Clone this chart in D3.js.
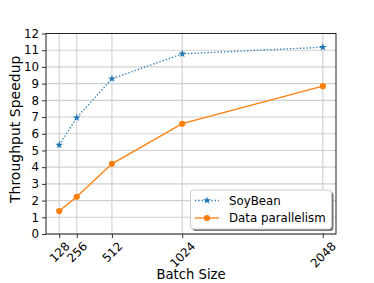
<!DOCTYPE html>
<html>
<head>
<meta charset="utf-8">
<script src="https://cdn.jsdelivr.net/npm/d3@7"></script>
<style>
  body { margin: 0; background: #fff; }
  text { font-family: "DejaVu Sans", sans-serif; fill: #000; }
</style>
</head>
<body>
<div id="chart"></div>
<script>
// data
var batchSizes = [128, 256, 512, 1024, 2048];
var soybean = [5.33, 6.96, 9.29, 10.78, 11.18];
var dataParallel = [1.37, 2.23, 4.2, 6.6, 8.85];
var yTicks = [0, 1, 2, 3, 4, 5, 6, 7, 8, 9, 10, 11, 12];
var seriesNames = ["SoyBean", "Data parallelism"];

var svgWidth = 374;
var svgHeight = 283;
var margin = { top: 33.5, right: 38, bottom: 49, left: 46 };
var width = svgWidth - margin.left - margin.right;
var height = svgHeight - margin.top - margin.bottom;

var blue = "#1f77b4";
var orange = "#ff7f0e";

var svg = d3.select("#chart")
  .append("svg")
  .attr("width", svgWidth)
  .attr("height", svgHeight);

var chartGroup = svg.append("g")
  .attr("transform", `translate(${margin.left}, ${margin.top})`);

// x range padded 5% like matplotlib
var span = batchSizes[batchSizes.length - 1] - batchSizes[0];
var xScale = d3.scaleLinear()
  .domain([batchSizes[0] - span * 0.05, batchSizes[batchSizes.length - 1] + span * 0.05])
  .range([0, width]);

var yScale = d3.scaleLinear()
  .domain([0, 12])
  .range([height, 0]);

// grid
chartGroup.append("g")
  .selectAll("line")
  .data(yTicks)
  .enter()
  .append("line")
  .attr("x1", 0)
  .attr("x2", width)
  .attr("y1", d => yScale(d))
  .attr("y2", d => yScale(d))
  .attr("stroke", "#d0d0d0")
  .attr("stroke-width", 1.1);

chartGroup.append("g")
  .selectAll("line")
  .data(batchSizes)
  .enter()
  .append("line")
  .attr("x1", d => xScale(d))
  .attr("x2", d => xScale(d))
  .attr("y1", 0)
  .attr("y2", height)
  .attr("stroke", "#d0d0d0")
  .attr("stroke-width", 1.1);

// axes
var bottomAxis = d3.axisBottom(xScale).tickValues(batchSizes).tickSize(4).tickPadding(3).tickFormat(d3.format("d"));
var leftAxis = d3.axisLeft(yScale).tickValues(yTicks).tickSize(4).tickPadding(3);

var xAxisG = chartGroup.append("g")
  .attr("transform", `translate(0, ${height})`)
  .call(bottomAxis);

var yAxisG = chartGroup.append("g")
  .call(leftAxis);

[xAxisG, yAxisG].forEach(function(g) {
  g.select(".domain").remove();
  g.selectAll("line").attr("stroke", "#333");
  g.selectAll("text").style("font-size", "11.8px").style("font-family", "DejaVu Sans");
});

// rotate x tick labels 45deg, centred on tick (bbox top under the axis)
xAxisG.selectAll(".tick text")
  .attr("y", null)
  .attr("dy", null)
  .attr("text-anchor", "middle")
  .attr("dominant-baseline", "central")
  .attr("transform", function() {
    var w = this.getComputedTextLength();
    var h = 9;
    var off = 7 + (w + h) / (2 * Math.SQRT2);
    return `translate(0, ${off}) rotate(-45)`;
  });

// frame
chartGroup.append("rect")
  .attr("width", width)
  .attr("height", height)
  .attr("fill", "none")
  .attr("stroke", "#222")
  .attr("stroke-width", 1);

// lines
var line = d3.line()
  .x(d => xScale(d[0]))
  .y(d => yScale(d[1]));

var soyPts = batchSizes.map((b, i) => [b, soybean[i]]);
var dpPts = batchSizes.map((b, i) => [b, dataParallel[i]]);

chartGroup.append("path")
  .datum(soyPts)
  .attr("d", line)
  .attr("fill", "none")
  .attr("stroke", blue)
  .attr("stroke-width", 1.3)
  .attr("stroke-dasharray", "1.3,2");

chartGroup.append("path")
  .datum(dpPts)
  .attr("d", line)
  .attr("fill", "none")
  .attr("stroke", orange)
  .attr("stroke-width", 1.3);

var star = d3.symbol().type(d3.symbolStar).size(19);

chartGroup.selectAll(".soy")
  .data(soyPts)
  .enter()
  .append("path")
  .attr("class", "soy")
  .attr("d", star)
  .attr("transform", d => `translate(${xScale(d[0])}, ${yScale(d[1])})`)
  .attr("fill", blue);

chartGroup.selectAll(".dp")
  .data(dpPts)
  .enter()
  .append("circle")
  .attr("class", "dp")
  .attr("cx", d => xScale(d[0]))
  .attr("cy", d => yScale(d[1]))
  .attr("r", 3.1)
  .attr("fill", orange);

// legend
var lx = 190.5, ly = 190, lw = 141, lh = 39;
svg.append("rect")
  .attr("x", lx + 2).attr("y", ly + 2)
  .attr("width", lw).attr("height", lh)
  .attr("rx", 3)
  .attr("fill", "#777");
svg.append("rect")
  .attr("x", lx).attr("y", ly)
  .attr("width", lw).attr("height", lh)
  .attr("rx", 3)
  .attr("fill", "#fff")
  .attr("stroke", "#ccc")
  .attr("stroke-width", 1);

seriesNames.forEach(function(name, i) {
  var yy = ly + 10.5 + i * 17.5;
  var col = i === 0 ? blue : orange;
  svg.append("line")
    .attr("x1", lx + 4.5).attr("x2", lx + 28.5)
    .attr("y1", yy).attr("y2", yy)
    .attr("stroke", col)
    .attr("stroke-width", 1.3)
    .attr("stroke-dasharray", i === 0 ? "1.3,2" : null);
  if (i === 0) {
    svg.append("path").attr("d", star)
      .attr("transform", `translate(${lx + 16.5}, ${yy})`)
      .attr("fill", col);
  } else {
    svg.append("circle").attr("cx", lx + 16.5).attr("cy", yy).attr("r", 3.1).attr("fill", col);
  }
  svg.append("text")
    .attr("x", lx + 38.5)
    .attr("y", yy + 4.3)
    .style("font-size", "11.8px")
    .text(name);
});

// axis labels
svg.append("text")
  .attr("transform", "translate(20, 203) rotate(-90)")
  .attr("text-anchor", "start")
  .style("font-size", "14px")
  .text("Throughput Speedup");

svg.append("text")
  .attr("x", margin.left + width / 2)
  .attr("y", 279)
  .attr("text-anchor", "middle")
  .style("font-size", "13.2px")
  .text("Batch Size");
</script>
</body>
</html>
